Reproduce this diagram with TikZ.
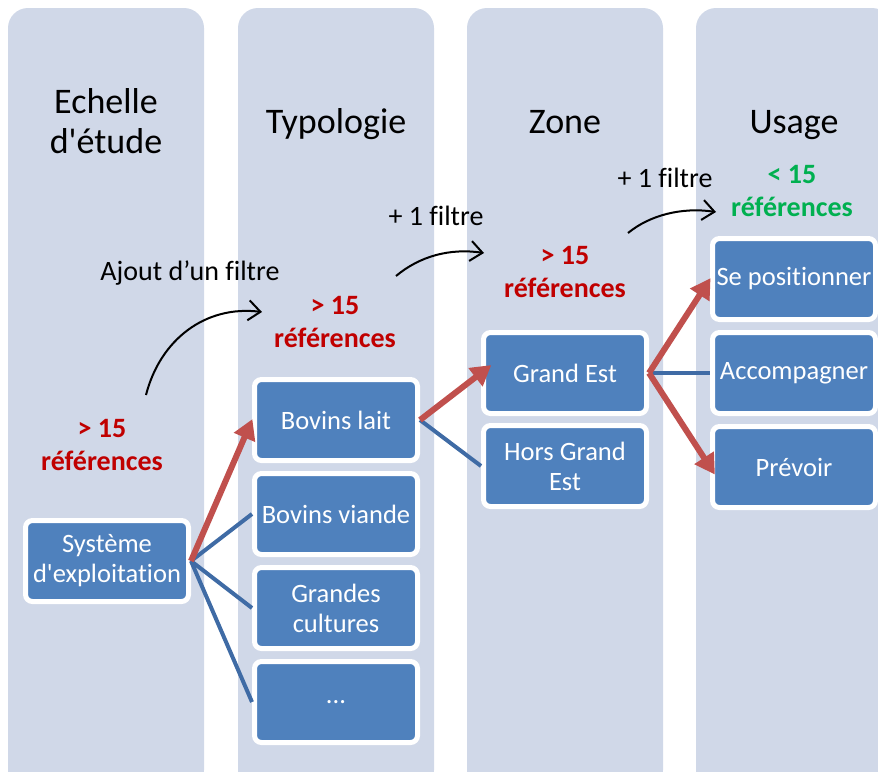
\documentclass[tikz,border=0pt]{standalone}
\usepackage{fontspec}
\setmainfont{Carlito}[Ligatures={TeXOff,NoCommon}]
\usetikzlibrary{arrows.meta}

\definecolor{colbg}{HTML}{D0D8E8}
\definecolor{boxblue}{HTML}{4F81BD}
\definecolor{linkblue}{HTML}{3F6BA5}
\definecolor{linkred}{HTML}{C0504D}
\definecolor{txtred}{HTML}{C00000}
\definecolor{txtgreen}{HTML}{00B050}

\tikzset{
  column/.style={fill=colbg, rounded corners=20pt},
  header/.style={align=center, anchor=base, font=\fontsize{36}{40}\selectfont},
  itembox/.style={draw=white, line width=5pt, fill=boxblue, rounded corners=7pt,
    minimum width=163pt, minimum height=81pt, inner sep=0pt, align=center,
    text=white, font=\fontsize{26.5}{30}\selectfont},
  count/.style={align=center, font=\bfseries\fontsize{28}{33}\selectfont},
  note/.style={font=\fontsize{28}{32}\selectfont},
  chosen/.style={draw=linkred, line width=6pt, -{Triangle[length=20pt,width=22pt]}},
  other/.style={draw=linkblue, line width=4pt},
  filterarrow/.style={draw=black, line width=2pt, -{Straight Barb[length=12pt,width=20pt,line width=2pt]}}
}

\begin{document}
\begin{tikzpicture}[x=1pt, y=-1pt]
  \useasboundingbox (0,0) rectangle (878,771);
  \clip (0,0) rectangle (878,771);

  % column backgrounds
  \fill[column] (8,8) rectangle (204,790);
  \fill[column] (238,8) rectangle (434,790);
  \fill[column] (467,8) rectangle (663,790);
  \fill[column] (696,8) rectangle (892,790);

  % column headers (base = baseline of the last line)
  \node[header] (h1) at (106,153) {Echelle\\d'étude};
  \node[header] (h2) at (336,133) {Typologie};
  \node[header] (h3) at (565,133) {Zone};
  \node[header] (h4) at (794,133) {Usage};

  % boxes
  \node[itembox] (sys) at (107,561) {Système\\d'exploitation};

  \node[itembox] (bl) at (336,420) {Bovins lait};
  \node[itembox] (bv) at (336,514) {Bovins viande};
  \node[itembox] (gc) at (336,608) {Grandes\\cultures};
  \node[itembox] (dots) at (336,702) {...};

  \node[itembox] (ge) at (565,373) {Grand Est};
  \node[itembox] (hge) at (565,466) {Hors Grand\\Est};

  \node[itembox] (pos) at (794,279) {Se positionner};
  \node[itembox] (acc) at (794,373) {Accompagner};
  \node[itembox] (prev) at (794,467) {Prévoir};

  % links not followed
  \draw[other] (sys.east) -- (bv.west);
  \draw[other] (sys.east) -- (gc.west);
  \draw[other] (sys.east) -- (dots.west);
  \draw[other] (bl.east) -- (hge.west);
  \draw[other] (ge.east) -- (acc.west);

  % links followed
  \draw[chosen, shorten >=-1pt] (sys.east) -- (bl.west);
  \draw[chosen, shorten >=-13pt] (bl.east) -- (ge.west);
  \draw[chosen, shorten >=-1pt] (ge.east) -- (pos.west);
  \draw[chosen, shorten >=-9pt] (ge.east) -- (prev.west);

  % reference counts
  \node[count, text=txtred] (n1) at (102,445) {> 15\\références};
  \node[count, text=txtred] (n2) at (335,322) {> 15\\références};
  \node[count, text=txtred] (n3) at (565,272) {> 15\\références};
  \node[count, text=txtgreen] (n4) at (792,191) {< 15\\références};

  % filter steps
  \node[note] (f1) at (190,273) {Ajout d’un filtre};
  \node[note] (f2) at (436,216) {+ 1 filtre};
  \node[note] (f3) at (665,178) {+ 1 filtre};

  \coordinate (a1s) at (146,395);
  \coordinate (a1e) at (262,312);
  \coordinate (a2s) at (396,276);
  \coordinate (a2e) at (484,253);
  \coordinate (a3s) at (628,233);
  \coordinate (a3e) at (716,212);
  \draw[filterarrow] (a1s) .. controls (160,340) and (205,305) .. (a1e);
  \draw[filterarrow] (a2s) .. controls (420,256) and (450,248) .. (a2e);
  \draw[filterarrow] (a3s) .. controls (650,215) and (682,207) .. (a3e);
\end{tikzpicture}
\end{document}
